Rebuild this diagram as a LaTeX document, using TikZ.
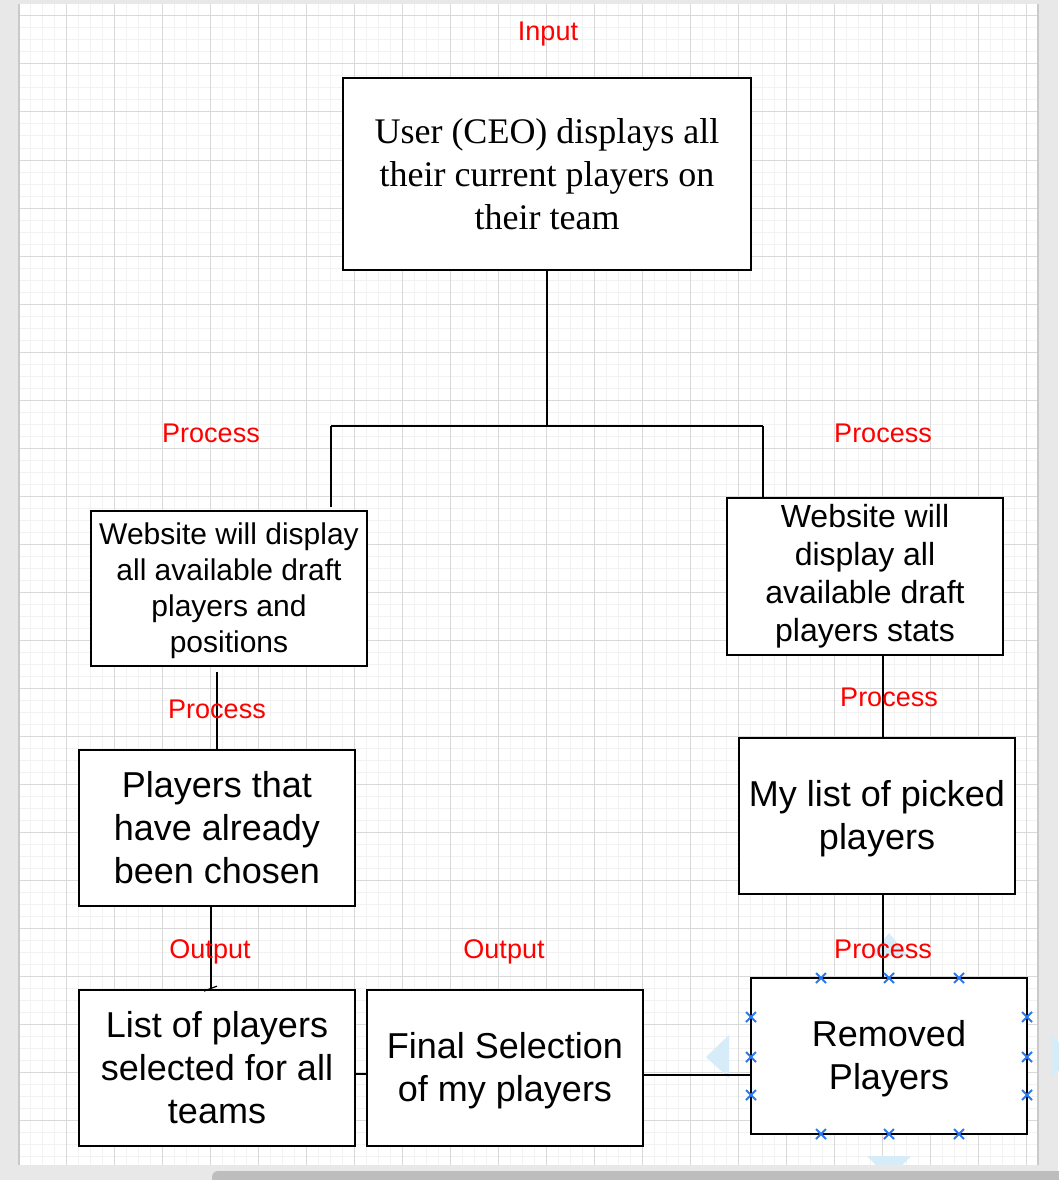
\documentclass[tikz,border=0pt]{standalone}
\usepackage{fontspec}
\setmainfont{Liberation Serif}
\newfontfamily\helv{Liberation Sans}
\definecolor{gridminor}{HTML}{F2F2F2}
\definecolor{gridmajor}{HTML}{D9D9D9}
\definecolor{frame}{HTML}{E8E8E8}
\definecolor{frameedge}{HTML}{CACACA}
\definecolor{scrollbar}{HTML}{BDBDBD}
\definecolor{handle}{HTML}{2A78F0}
\definecolor{hint}{HTML}{D6ECF8}
\tikzset{
  box/.style={draw, line width=1.8, fill=white, align=center, inner sep=0pt,
    minimum width=276, minimum height=156},
  sans/.style={font=\helv\fontsize{36}{43}\selectfont},
  link/.style={line width=1.8},
  tag/.style={text=red, font=\helv\fontsize{27}{32}\selectfont, anchor=base, inner sep=0pt},
  minorline/.style={gridminor, line width=1},
  majorline/.style={gridmajor, line width=1}
}
\newcommand{\topgap}{\rule{0pt}{0.9em}}
\newcommand{\handlemark}[1]{\draw[handle, line width=2] ($(#1)+(-5,-5)$) -- ($(#1)+(5,5)$) ($(#1)+(-5,5)$) -- ($(#1)+(5,-5)$);}
\usetikzlibrary{calc}
\begin{document}
\begin{tikzpicture}[x=1pt,y=-1pt]
\useasboundingbox (0,0) rectangle (1058,1180);
\fill[frame] (0,0) rectangle (1058,1180);
\fill[white] (19,4) rectangle (1038,1165);
\foreach \k in {0,...,84} \draw[minorline] (18.7+12*\k,4) -- (18.7+12*\k,1165);
\foreach \k in {1,...,96} \draw[minorline] (19,4+12*\k) -- (1038,4+12*\k);
\foreach \k in {1,...,21} \draw[majorline] (18.7+48*\k,4) -- (18.7+48*\k,1165);
\foreach \k in {0,...,23} \draw[majorline] (19,16+48*\k) -- (1038,16+48*\k);
\draw[frameedge, line width=1.5] (19,4) -- (19,1165);
\draw[frameedge, line width=2] (1038,4) -- (1038,1165);
\fill[hint] (729,1035) -- (729,1078) -- (706,1057) -- cycle;
\fill[hint] (1051,1035) -- (1051,1078) -- (1074,1057) -- cycle;
\fill[hint] (867,1156) -- (911,1156) -- (889,1179) -- cycle;
\fill[hint] (870,956) -- (908,956) -- (889,933) -- cycle;
\node[box, font=\fontsize{36}{43}\selectfont, minimum width=408, minimum height=192] (ceo) at (547,174) {User (CEO) displays all\\their current players on\\their team};
\node[box, font=\helv\fontsize{30}{36}\selectfont, minimum height=155] (drafta) at (229,588.5) {\topgap Website will display\\all available draft\\players and\\positions};
\node[box, font=\helv\fontsize{32}{38}\selectfont, minimum height=157] (draftb) at (865,576.5) {Website will\\display all\\available draft\\players stats};
\node[box, sans] (chosen) at (217,828) {Players that\\have already\\been chosen};
\node[box, sans] (picked) at (877,816) {\topgap My list of picked\\players};
\node[box, sans] (allteams) at (217,1068) {List of players\\selected for all\\teams};
\node[box, sans] (final) at (505,1068) {\topgap Final Selection\\of my players};
\node[box, sans] (removed) at (889,1056) {\topgap Removed\\Players};
\coordinate (split) at (547,426);
\coordinate (lsplit) at (331,426);
\coordinate (rsplit) at (763,426);
\draw[link] (ceo.south) -- (split);
\draw[link] (lsplit) -- (rsplit);
\draw[link] (lsplit) -- ([yshift=3]lsplit |- drafta.north);
\draw[link] (rsplit) -- (rsplit |- draftb.north);
\draw[link] ([xshift=-12,yshift=-5]drafta.south) -- ([xshift=-12]drafta.south |- chosen.north);
\draw[link] ([xshift=18]draftb.south) -- ([xshift=18]draftb.south |- picked.north);
\draw[link] ([xshift=-6]chosen.south) -- ([xshift=-6]chosen.south |- allteams.north);
\draw[link, line width=1.2] ([shift={(-13,2)}]allteams.north) -- ++(13,-5);
\draw[link] ([xshift=6]picked.south) -- ([xshift=6]picked.south |- removed.north);
\draw[link] ([yshift=-6]allteams.east) -- ([yshift=-6]allteams.east -| final.west);
\draw[link] ([yshift=-7]final.east) -- ([yshift=-7]final.east -| removed.west);
\foreach \hx in {821,889,959} {\handlemark{\hx,978} \handlemark{\hx,1134}}
\foreach \hy in {1017,1057,1095} {\handlemark{751,\hy} \handlemark{1027,\hy}}
\node[tag] (input) at (548,41) {Input};
\node[tag] (procl) at (211,442) {Process};
\node[tag] (procr) at (883,442) {Process};
\node[tag] (procchosen) at (217,718) {Process};
\node[tag] (procpicked) at (889,706) {Process};
\node[tag] (outall) at (210,958) {Output};
\node[tag] (outfinal) at (504,958) {Output};
\node[tag] (procremoved) at (883,958) {Process};
\fill[frame] (0,1165) rectangle (1058,1180);
\fill[scrollbar, rounded corners=6] (212,1171) rectangle (1070,1190);
\end{tikzpicture}
\end{document}
